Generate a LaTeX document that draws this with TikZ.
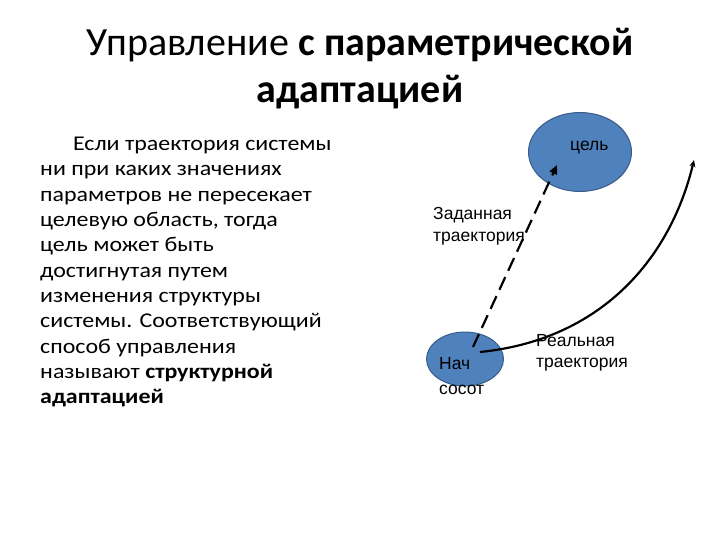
\documentclass[tikz,border=0pt]{standalone}
\usepackage{fontspec}
\setmainfont{Carlito}
\newfontfamily\bodyf[FakeStretch=1.14,BoldFeatures={FakeStretch=1.14}]{Carlito}
\newfontfamily\arialf{Liberation Sans}
\usetikzlibrary{shapes.geometric,arrows.meta}
\definecolor{ellfill}{HTML}{4F81BD}
\definecolor{elldraw}{HTML}{385D8A}
\tikzset{
  blob/.style={ellipse,fill=ellfill,draw=elldraw,line width=1pt,inner sep=0pt},
  lbl/.style={font=\arialf\fontsize{17.5}{22}\selectfont,inner sep=0pt,align=left,anchor=base west},
  ttl/.style={font=\fontsize{40}{45}\selectfont,inner sep=0pt,anchor=base},
  body/.style={font=\bodyf\fontsize{21}{25.3}\selectfont,inner sep=0pt,align=left,anchor=north west},
  traj/.style={line width=2.2pt,black}
}
\begin{document}
\begin{tikzpicture}[x=1pt,y=-1pt]
\useasboundingbox (0,0) rectangle (720,540);
\node[ttl] (t1) at (360,56) {Управление \textbf{с параметрической}};
\node[ttl] (t2) at (360,103) {\textbf{адаптацией}};
\node[body] (txt) at (40,137) {\hspace*{33pt}Если траектория системы\\
ни при каких значениях\\
параметров не пересекает\\
целевую область, тогда\\
цель может быть\\
достигнутая путем\\
изменения структуры\\
системы. Соответствующий\\
способ управления\\
называют \textbf{структурной}\\
\textbf{адаптацией}};
\node[blob,minimum width=103pt,minimum height=79pt] (goal) at (580,152) {};
\node[lbl] (goallbl) at (570,151) {цель};
\node[blob,minimum width=77pt,minimum height=54pt] (start) at (465,359) {};
\node[lbl] (startlbl) at (439,394) {Нач\\[3pt]сосот};
\node[lbl] (zl) at (433,241) {Заданная\\траектория};
\node[lbl] (rl) at (536,367) {Реальная\\[-1pt]траектория};
\coordinate (ds) at (473,347);
\coordinate (de) at (557,165);
\coordinate (rs) at (480,352);
\coordinate (re) at (694,160);
\draw[traj,dash pattern=on 14pt off 7pt,-{Triangle[length=9pt,width=8pt]}] (ds) -- (de);
\draw[traj,-{Stealth[length=7pt,width=6pt]}] (rs) .. controls (600,340) and (670,260) .. (re);
\end{tikzpicture}
\end{document}
